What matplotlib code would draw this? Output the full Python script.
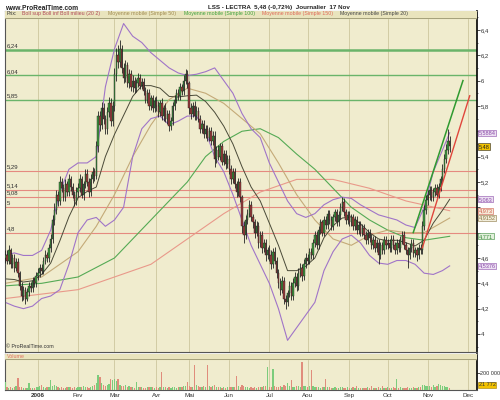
import numpy as np
import pandas as pd
import matplotlib
matplotlib.use("Agg")
import matplotlib.pyplot as plt
import matplotlib.transforms as mtrans

plt.rcParams['font.family'] = ['Liberation Sans', 'DejaVu Sans']

# daily closes / highs / lows, month by month (Euronext trading days)
close_dec = [4.62, 4.58, 4.66, 4.55, 4.60, 4.52, 4.57, 4.48, 4.38, 4.30, 4.35, 4.28, 4.33, 4.38, 4.36, 4.42, 4.40, 4.46]
high_dec = [4.66, 4.66, 4.70, 4.68, 4.63, 4.63, 4.60, 4.60, 4.50, 4.41, 4.38, 4.37, 4.36, 4.41, 4.41, 4.45, 4.45, 4.49]
low_dec = [4.56, 4.55, 4.55, 4.52, 4.52, 4.49, 4.50, 4.45, 4.35, 4.26, 4.27, 4.24, 4.26, 4.30, 4.33, 4.33, 4.37, 4.37]
close_jan = [4.48, 4.52, 4.50, 4.58, 4.62, 4.60, 4.68, 4.75, 4.90, 4.98, 5.10, 5.05, 5.20, 5.15, 5.08, 5.18, 5.12, 5.22, 5.16, 5.10, 5.05, 5.12]
high_jan = [4.52, 4.55, 4.55, 4.61, 4.66, 4.65, 4.71, 4.79, 4.94, 5.03, 5.14, 5.13, 5.25, 5.23, 5.18, 5.22, 5.21, 5.26, 5.25, 5.19, 5.13, 5.16]
low_jan = [4.43, 4.45, 4.47, 4.47, 4.55, 4.57, 4.57, 4.65, 4.72, 4.86, 4.95, 5.01, 5.02, 5.12, 5.05, 5.05, 5.09, 5.09, 5.13, 5.07, 5.01, 5.02]
close_feb = [5.15, 5.22, 5.10, 5.18, 5.26, 5.20, 5.12, 5.22, 5.28, 5.25, 5.48, 5.72, 5.65, 5.78, 5.70, 5.62, 5.75, 5.82, 5.68, 5.80]
high_feb = [5.19, 5.26, 5.25, 5.21, 5.30, 5.30, 5.23, 5.26, 5.32, 5.31, 5.52, 5.76, 5.76, 5.83, 5.82, 5.73, 5.79, 5.87, 5.86, 5.84]
low_feb = [5.08, 5.12, 5.07, 5.06, 5.15, 5.17, 5.08, 5.09, 5.19, 5.21, 5.22, 5.44, 5.60, 5.62, 5.66, 5.58, 5.58, 5.71, 5.64, 5.64]
close_mar = [6.05, 6.20, 6.15, 6.25, 6.10, 6.02, 6.12, 5.98, 6.05, 5.95, 6.00, 5.94, 5.98, 6.02, 5.96, 5.99, 5.92, 5.85, 5.90, 5.80, 5.86, 5.78, 5.84]
high_mar = [6.10, 6.26, 6.28, 6.32, 6.28, 6.14, 6.16, 6.15, 6.09, 6.08, 6.04, 6.03, 6.01, 6.06, 6.05, 6.02, 6.02, 5.95, 5.93, 5.93, 5.89, 5.89, 5.87]
low_mar = [5.76, 6.00, 6.10, 6.11, 6.06, 5.98, 5.99, 5.95, 5.94, 5.92, 5.91, 5.90, 5.91, 5.95, 5.93, 5.93, 5.89, 5.82, 5.82, 5.77, 5.77, 5.75, 5.75]
close_apr = [5.80, 5.75, 5.82, 5.72, 5.78, 5.70, 5.74, 5.64, 5.68, 5.80, 5.85, 5.90, 5.88, 5.95, 5.92, 6.00, 6.05, 5.98]
high_apr = [5.88, 5.84, 5.85, 5.86, 5.81, 5.82, 5.77, 5.77, 5.71, 5.83, 5.89, 5.93, 5.93, 5.98, 5.97, 6.04, 6.09, 6.08]
low_apr = [5.76, 5.71, 5.72, 5.69, 5.68, 5.67, 5.66, 5.60, 5.61, 5.65, 5.77, 5.82, 5.85, 5.85, 5.89, 5.89, 5.97, 5.94]
close_may = [5.78, 5.74, 5.80, 5.72, 5.76, 5.70, 5.62, 5.66, 5.58, 5.62, 5.55, 5.60, 5.52, 5.56, 5.38, 5.45, 5.40, 5.48, 5.36, 5.42, 5.34, 5.38]
high_may = [6.00, 5.82, 5.83, 5.84, 5.80, 5.79, 5.73, 5.69, 5.69, 5.65, 5.65, 5.63, 5.63, 5.60, 5.60, 5.48, 5.49, 5.51, 5.51, 5.45, 5.45, 5.41]
low_may = [5.74, 5.70, 5.71, 5.69, 5.69, 5.67, 5.59, 5.59, 5.55, 5.55, 5.52, 5.52, 5.49, 5.49, 5.32, 5.35, 5.37, 5.37, 5.33, 5.33, 5.30, 5.31]
close_jun = [5.30, 5.22, 5.28, 5.18, 5.12, 5.20, 5.08, 4.85, 4.78, 4.90, 4.95, 5.02, 4.92, 4.88, 4.80, 4.85, 4.72, 4.78, 4.68, 4.72, 4.62, 4.66]
high_jun = [5.41, 5.33, 5.31, 5.31, 5.21, 5.23, 5.23, 5.10, 4.89, 4.94, 4.99, 5.06, 5.05, 4.95, 4.91, 4.89, 4.88, 4.81, 4.81, 4.75, 4.75, 4.69]
low_jun = [5.26, 5.18, 5.19, 5.15, 5.08, 5.09, 5.04, 4.80, 4.72, 4.75, 4.87, 4.92, 4.89, 4.84, 4.76, 4.77, 4.68, 4.69, 4.64, 4.65, 4.58, 4.59]
close_jul = [4.62, 4.55, 4.65, 4.58, 4.48, 4.40, 4.35, 4.42, 4.28, 4.25, 4.32, 4.38, 4.30, 4.40, 4.45, 4.38, 4.48, 4.52, 4.46, 4.55, 4.60]
high_jul = [4.70, 4.66, 4.68, 4.69, 4.61, 4.51, 4.44, 4.46, 4.45, 4.31, 4.35, 4.42, 4.41, 4.44, 4.49, 4.48, 4.52, 4.56, 4.55, 4.59, 4.64]
low_jul = [4.58, 4.51, 4.52, 4.55, 4.44, 4.36, 4.31, 4.32, 4.24, 4.20, 4.22, 4.29, 4.27, 4.27, 4.37, 4.34, 4.35, 4.45, 4.42, 4.43, 4.52]
close_aug = [4.58, 4.65, 4.62, 4.72, 4.78, 4.70, 4.82, 4.88, 4.80, 4.90, 4.86, 4.95, 4.90, 4.85, 4.92, 4.96, 4.88, 4.94, 5.00, 5.04, 4.96, 4.90, 4.94]
high_aug = [4.63, 4.68, 4.68, 4.75, 4.81, 4.81, 4.85, 4.91, 4.90, 4.93, 4.93, 4.98, 4.98, 4.93, 4.95, 4.99, 4.99, 4.97, 5.03, 5.08, 5.07, 4.99, 4.97]
low_aug = [4.55, 4.55, 4.59, 4.59, 4.69, 4.67, 4.67, 4.79, 4.77, 4.77, 4.83, 4.83, 4.87, 4.82, 4.82, 4.89, 4.85, 4.85, 4.91, 4.97, 4.93, 4.87, 4.87]
close_sep = [4.88, 4.92, 4.85, 4.90, 4.82, 4.86, 4.80, 4.84, 4.78, 4.74, 4.80, 4.76, 4.70, 4.74, 4.68, 4.72, 4.62, 4.70, 4.66, 4.74, 4.70]
high_sep = [4.97, 4.95, 4.95, 4.93, 4.93, 4.89, 4.89, 4.87, 4.87, 4.81, 4.83, 4.83, 4.79, 4.77, 4.77, 4.75, 4.75, 4.73, 4.73, 4.77, 4.77]
low_sep = [4.85, 4.85, 4.82, 4.82, 4.79, 4.79, 4.77, 4.77, 4.75, 4.71, 4.71, 4.73, 4.67, 4.67, 4.65, 4.65, 4.55, 4.59, 4.63, 4.63, 4.67]
close_oct = [4.72, 4.68, 4.75, 4.70, 4.66, 4.72, 4.68, 4.74, 4.78, 4.70, 4.66, 4.62, 4.68, 4.72, 4.64, 4.66, 4.62, 4.68, 4.66, 4.85, 4.98, 5.06]
high_oct = [4.75, 4.75, 4.78, 4.78, 4.73, 4.75, 4.75, 4.77, 4.81, 4.81, 4.73, 4.69, 4.71, 4.75, 4.75, 4.69, 4.69, 4.71, 4.71, 4.89, 5.02, 5.10]
low_oct = [4.67, 4.65, 4.65, 4.67, 4.63, 4.63, 4.65, 4.65, 4.71, 4.67, 4.63, 4.52, 4.59, 4.65, 4.61, 4.61, 4.58, 4.59, 4.63, 4.63, 4.82, 4.95]
close_nov = [5.10, 5.14, 5.08, 5.12, 5.15, 5.10, 5.16, 5.22, 5.30, 5.38, 5.45, 5.52, 5.48]
high_nov = [5.14, 5.17, 5.17, 5.15, 5.18, 5.18, 5.19, 5.25, 5.34, 5.42, 5.50, 5.62, 5.56]
low_nov = [5.02, 5.06, 5.05, 5.05, 5.09, 5.07, 5.07, 5.13, 5.19, 5.27, 5.35, 5.42, 5.44]
first_open = 4.60

# volume in thousands of shares
vol_dec = [98, 35, 28, 40, 25, 30, 45, 141, 38, 30, 22, 28, 25, 80, 20, 18, 25, 30]
vol_jan = [30, 45, 60, 35, 28, 40, 30, 118, 45, 55, 50, 30, 25, 35, 28, 22, 30, 40, 35, 25, 30, 28]
vol_feb = [35, 30, 40, 45, 38, 30, 28, 40, 45, 60, 80, 176, 150, 80, 55, 45, 60, 70, 130, 120]
vol_mar = [135, 110, 125, 60, 50, 45, 55, 40, 50, 35, 30, 28, 98, 40, 30, 35, 28, 25, 30, 35, 40, 30, 25]
vol_apr = [30, 28, 35, 215, 40, 30, 25, 30, 28, 35, 30, 25, 40, 35, 30, 45, 50, 90]
vol_may = [45, 40, 40, 294, 60, 45, 40, 35, 50, 40, 294, 45, 35, 50, 60, 40, 35, 30, 28, 30, 25, 35]
vol_jun = [30, 40, 35, 30, 168, 45, 40, 60, 45, 35, 30, 28, 30, 25, 30, 28, 35, 30, 40, 50, 45, 270]
vol_jul = [40, 35, 247, 50, 40, 35, 45, 40, 60, 50, 80, 45, 118, 40, 35, 50, 45, 40, 333, 50, 45]
vol_aug = [40, 50, 235, 45, 40, 35, 30, 28, 30, 35, 130, 40, 30, 28, 25, 30, 28, 25, 30, 35, 28, 25, 30]
vol_sep = [25, 28, 30, 25, 45, 28, 25, 22, 28, 25, 30, 25, 42, 28, 25, 22, 30, 28, 50, 25, 28]
vol_oct = [30, 25, 28, 30, 25, 130, 28, 30, 25, 22, 28, 30, 25, 28, 30, 25, 28, 35, 30, 55, 60, 45]
vol_nov = [50, 45, 40, 55, 40, 45, 70, 60, 50, 45, 40, 30, 21.772]

# indicators (bar index, value)
bb_x = list(range(0, 245, 5)) + [244]
bb_up = [4.62, 4.64, 4.62, 4.62, 4.66, 4.82, 5.12, 5.30, 5.35, 5.35, 5.40, 5.95, 6.25, 6.45, 6.35, 6.30,
         6.22, 6.16, 6.10, 6.06, 6.04, 6.05, 6.07, 6.10, 6.00, 5.90, 5.74, 5.62, 5.55, 5.35, 5.20, 5.05,
         4.95, 4.92, 4.95, 5.02, 5.06, 5.08, 5.07, 5.02, 4.98, 4.94, 4.92, 4.90, 4.86, 4.84, 5.00, 5.28,
         5.45, 5.5884]
bb_dn = [4.25, 4.22, 4.20, 4.22, 4.28, 4.30, 4.35, 4.55, 4.80, 4.90, 4.92, 4.85, 4.90, 5.00, 5.40, 5.62,
         5.70, 5.72, 5.65, 5.68, 5.72, 5.72, 5.60, 5.40, 5.28, 5.10, 4.90, 4.70, 4.55, 4.40, 4.20, 3.95,
         4.05, 4.15, 4.25, 4.50, 4.65, 4.75, 4.78, 4.72, 4.62, 4.56, 4.55, 4.58, 4.58, 4.55, 4.48, 4.47,
         4.50, 4.5376]
ma50_x = [0, 20, 40, 50, 60, 70, 80, 90, 100, 110, 120, 130, 140, 150, 160, 170, 180, 190, 200, 210, 220, 230, 244]
ma50 = [4.40, 4.45, 4.65, 4.85, 5.10, 5.40, 5.65, 5.85, 5.94, 5.90, 5.82, 5.70, 5.58, 5.35, 5.10, 4.90,
        4.75, 4.70, 4.78, 4.82, 4.80, 4.80, 4.9152]
ma100_x = [0, 20, 40, 60, 80, 100, 110, 120, 130, 140, 150, 160, 170, 180, 190, 200, 210, 220, 230, 244]
ma100 = [4.38, 4.40, 4.45, 4.60, 4.90, 5.20, 5.40, 5.52, 5.60, 5.62, 5.55, 5.42, 5.30, 5.15, 5.00, 4.90,
         4.82, 4.76, 4.74, 4.771]
ma150_x = [0, 40, 80, 120, 140, 160, 180, 200, 220, 244]
ma150 = [4.28, 4.35, 4.55, 4.95, 5.12, 5.22, 5.22, 5.15, 5.05, 4.973]

# support / resistance levels and trend lines
green_levels = [6.24, 6.04, 5.85]
red_levels = [5.29, 5.14, 5.08, 5.0, 4.8]
trend_green = ([224, 251.3], [4.80, 6.00])
trend_red = ([229, 255], [4.68, 5.88])

month_lbl = {1: "2006", 2: "Fev", 3: "Mar", 4: "Avr", 5: "Mai", 6: "Jun", 7: "Jul",
             8: "Aou", 9: "Sep", 10: "Oct", 11: "Nov", 12: "Dec"}

close = np.array(close_dec + close_jan + close_feb + close_mar + close_apr + close_may +
                 close_jun + close_jul + close_aug + close_sep + close_oct + close_nov)
high = np.array(high_dec + high_jan + high_feb + high_mar + high_apr + high_may +
                high_jun + high_jul + high_aug + high_sep + high_oct + high_nov)
low = np.array(low_dec + low_jan + low_feb + low_mar + low_apr + low_may +
               low_jun + low_jul + low_aug + low_sep + low_oct + low_nov)
volume = 1000 * np.array(vol_dec + vol_jan + vol_feb + vol_mar + vol_apr + vol_may +
                         vol_jun + vol_jul + vol_aug + vol_sep + vol_oct + vol_nov)
opn = np.concatenate([[first_open], close[:-1]])
high = np.maximum(high, np.maximum(opn, close))
low = np.minimum(low, np.minimum(opn, close))
n = len(close)
x = np.arange(n)

hol = pd.to_datetime(["2005-12-26", "2006-04-14", "2006-04-17", "2006-05-01", "2006-12-25", "2006-12-26"])
days = pd.bdate_range("2005-12-06", "2006-12-29")
days = days[~days.isin(hol)]
mstart = [i for i in range(1, len(days)) if days[i].month != days[i - 1].month]

bg = "#f0ecce"
grid_c = "#d2cca4"
fig = plt.figure(figsize=(5, 4), dpi=100)
ax = fig.add_axes([0.01, 0.12, 0.944, 0.8525])
axv = fig.add_axes([0.01, 0.025, 0.944, 0.09])
for a in (ax, axv):
    a.set_facecolor(bg)
    a.set_xlim(-0.1, 259)
    for i in mstart:
        a.axvline(i, color=grid_c, lw=0.7, zorder=0)
    for s in a.spines.values():
        s.set_color("#555555")
        s.set_linewidth(0.8)
    a.spines["right"].set_color("black")
    a.spines["right"].set_linewidth(1.2)
    a.yaxis.tick_right()
    a.tick_params(axis="y", labelsize=4.3, length=2, width=0.6, pad=1, colors="#333333")
    a.set_xticks([])

ax.set_ylim(3.858, 6.549)
ticks = np.round(np.arange(4.0, 6.41, 0.2), 1)
hidden = [5.6, 5.0, 4.8]   # covered by the value boxes in the original
ax.set_yticks(ticks)
ax.set_yticklabels(["" if t in hidden else ("%g" % t).replace(".", ",") for t in ticks])
ax.set_yticks(np.round(np.arange(3.9, 6.55, 0.1), 1), minor=True)
ax.tick_params(axis="y", which="minor", length=1, width=0.5, colors="#333333")

# levels
for lv, lw in zip(green_levels, [1.8, 1.0, 1.0]):
    ax.axhline(lv, color="#6ab46a", lw=lw, zorder=1)
    ax.text(1, lv + 0.012, ("%g" % lv).replace(".", ","), fontsize=4.3, color="#333333", va="bottom")
for lv in red_levels:
    ax.axhline(lv, color="#e58a80", lw=0.8, zorder=1)
    ax.text(1, lv + 0.012, ("%g" % lv).replace(".", ","), fontsize=4.3, color="#333333", va="bottom")

# indicators
bbx = np.array(bb_x)
up = np.array(bb_up)
dn = np.array(bb_dn)
ax.plot(ma150_x, ma150, color="#e9998a", lw=0.8, zorder=2)
ax.plot(ma100_x, ma100, color="#55aa55", lw=0.8, zorder=2)
ax.plot(ma50_x, ma50, color="#c4aa78", lw=0.8, zorder=2)
ax.plot(bbx, (up + dn) / 2, color="#4a4a38", lw=0.7, zorder=2)
ax.plot(bbx, up, color="#a074c8", lw=0.8, zorder=2)
ax.plot(bbx, dn, color="#a074c8", lw=0.8, zorder=2)

# candles
rise = close >= opn
ax.vlines(x, low, high, color="#222222", lw=0.6, zorder=3)
ax.bar(x[rise], (close - opn)[rise], bottom=opn[rise], width=0.75, color="#3f9a3f",
       edgecolor="#222222", linewidth=0.3, zorder=4)
ax.bar(x[~rise], (opn - close)[~rise], bottom=close[~rise], width=0.75, color="#9a3a3a",
       edgecolor="#222222", linewidth=0.3, zorder=4)

ax.plot(*trend_green, color="#2f9a2f", lw=1.1, zorder=5)
ax.plot(*trend_red, color="#e0463c", lw=1.0, zorder=5)

# header strip inside the price panel
ax.axhspan(6.49, 6.549, color="#e9e4bd", zorder=6)
ax.axhline(6.49, color="#8a8660", lw=0.5, zorder=6)
hdr = [(0.0, "Prix:", "#333333"), (0.032, "Boll sup Boll inf Boll milieu (20 2)", "#b0485a"),
       (0.214, "Moyenne mobile (Simple 50)", "#a08a50"), (0.375, "Moyenne mobile (Simple 100)", "#3ea23e"),
       (0.54, "Moyenne mobile (Simple 150)", "#e06a5a"), (0.705, "Moyenne mobile (Simple 20)", "#444444")]
for hx, ht, hc in hdr:
    ax.text(hx + 0.004, 0.9915, ht, transform=ax.transAxes, fontsize=3.8, color=hc,
            va="center", ha="left", zorder=7)
ax.text(0.002, 0.008, "\u00a9 ProRealTime.com", transform=ax.transAxes, fontsize=3.8,
        color="#333333", va="bottom", zorder=7)

# value boxes on the right scale
tr = mtrans.blended_transform_factory(ax.transAxes, ax.transData)
boxes = [(bb_up[-1], "5,5884", "#8a4aa8", "#ece0f2"), (close[-1], "5,48", "#222222", "#f2c200"),
         (5.063, "5,063", "#8a4aa8", "#ece0f2"), (ma150[-1], "4,973", "#d05a4a", "#f6ead8"),
         (ma50[-1], "4,9152", "#8a7440", "#f2eedc"), (ma100[-1], "4,771", "#3a8a3a", "#e2f0dc"),
         (bb_dn[-1], "4,5376", "#8a4aa8", "#ece0f2")]
for by, bt, bc, bf in boxes:
    ax.text(1.004, by, bt, transform=tr, fontsize=4.0, color=bc, va="center", ha="left",
            clip_on=False, zorder=8,
            bbox=dict(boxstyle="square,pad=0.1", fc=bf, ec=bc, lw=0.4))

# volume panel
vup = np.concatenate([[True], close[1:] >= close[:-1]])
axv.bar(x[vup], volume[vup], width=0.7, color="#7ccc7c", zorder=3)
axv.bar(x[~vup], volume[~vup], width=0.7, color="#e08c7c", zorder=3)
axv.set_ylim(0, 423000)
axv.set_yticks([200000])
axv.set_yticklabels(["200 000"])
axv.tick_params(axis="y", labelsize=4.0, pad=0.5)
axv.axhspan(360000, 423000, color="#e9e4bd", zorder=4)
axv.axhline(360000, color="#8a8660", lw=0.5, zorder=4)
axv.text(0.004, 0.93, "Volume", transform=axv.transAxes, fontsize=3.8, color="#e07060",
         va="center", zorder=5)
trv = mtrans.blended_transform_factory(axv.transAxes, axv.transData)
axv.text(1.004, 60000, "21 772", transform=trv, fontsize=4.0, color="#333333",
         va="center", ha="left", clip_on=False, zorder=8,
         bbox=dict(boxstyle="square,pad=0.1", fc="#f2c200", ec="#a08000", lw=0.4))
for i in mstart:
    lbl = month_lbl[days[i].month]
    axv.text(i, -30000, lbl, fontsize=4.5, ha="center", va="top", color="#333333",
             fontweight="bold" if lbl == "2006" else "normal", clip_on=False)

fig.text(0.01, 0.988, "www.ProRealTime.com", fontsize=4.8, fontweight="bold", va="top", color="#222222")
fig.text(0.416, 0.988, "LSS - LECTRA  5,48 (-0,72%)  Journalier  17 Nov", fontsize=4.5,
         fontweight="bold", va="top", color="#222222")

fig.savefig("out.png", dpi=100, facecolor="white")
